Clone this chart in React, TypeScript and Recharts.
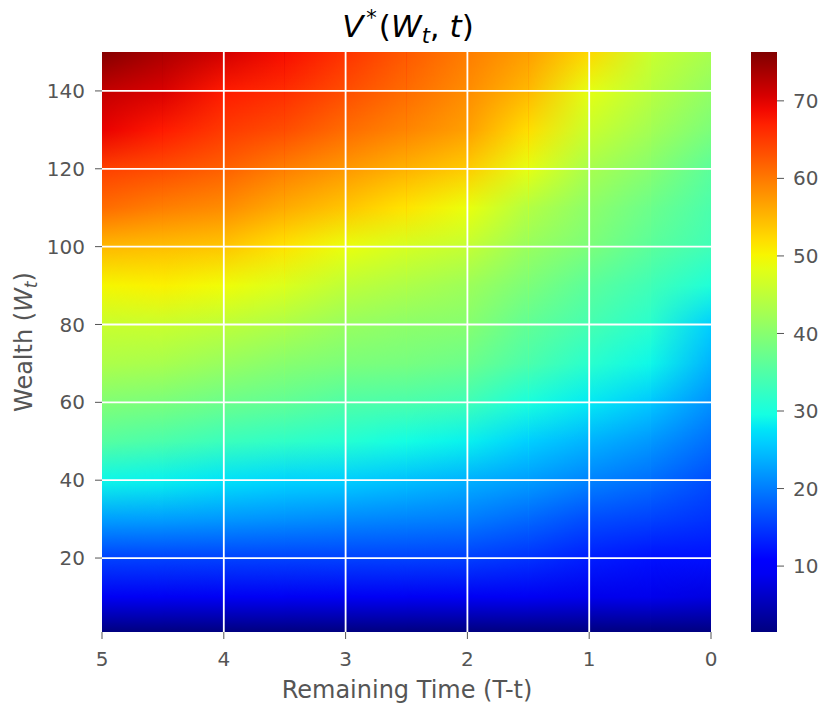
import React from "react";
import {
  ComposedChart,
  XAxis,
  YAxis,
  ReferenceArea,
  ReferenceLine,
  Scatter,
} from "recharts";

// grid the values were read on (remaining time left→right, wealth top→bottom)
const remainingTime = [5, 4.5, 4, 3.5, 3, 2.5, 2, 1.5, 1, 0.5, 0];
const wealthLevels = [150, 140, 130, 120, 110, 100, 90, 80, 70, 60, 50, 40, 30, 20, 10, 1];

// V*(W,t) per remaining-time column, top (W=150) to bottom (W=1)
const vT50 = [76, 72, 69.5, 64.5, 61, 55, 50, 46, 43.5, 39.5, 35.5, 29, 22.5, 15.7, 9, 1.5];
const vT45 = [73.5, 70.5, 67.5, 63.5, 59.5, 54.5, 50.5, 46, 43, 38.8, 34.5, 28.5, 22.4, 15.7, 9, 1.5];
const vT40 = [71, 67.5, 65, 62, 58.5, 54, 49.5, 45, 41.5, 37.5, 33, 27.5, 22, 15.7, 9, 1.5];
const vT35 = [68.5, 66, 63.5, 59.5, 56, 51.5, 47.5, 43.5, 40, 36.5, 32, 26.5, 21.5, 15.7, 9, 1.5];
const vT30 = [65.5, 63.5, 61, 57.5, 54, 49, 45, 41.5, 39, 35, 31, 26, 21, 15.7, 9, 1.5];
const vT25 = [62.5, 61, 59, 55.5, 51.5, 47, 43.5, 40.5, 38.5, 34.5, 29.5, 25, 20.5, 15.7, 9, 1.5];
const vT20 = [59.7, 58.5, 57, 53.5, 49, 45.5, 42, 40, 37.5, 33.5, 28.5, 23.8, 20, 15.5, 9, 1.5];
const vT15 = [57, 55, 52, 48.5, 44, 41.5, 39, 36.5, 34.5, 30, 26, 22.4, 18.5, 14.5, 9, 1.5];
const vT10 = [52.5, 48.5, 46, 43, 40.5, 39, 36, 34, 31.5, 28, 24, 20.5, 16.5, 13, 8.5, 1.5];
const vT05 = [46, 44.5, 42.5, 40, 37.5, 36, 33.5, 31.5, 29, 25.5, 22, 19, 15.7, 12, 8.5, 1.5];
const vT00 = [43, 41, 39, 36, 34.5, 33.5, 30.5, 26, 24, 21.5, 19, 16.5, 14.5, 12, 7.8, 1.5];
const valueColumns = [vT50, vT45, vT40, vT35, vT30, vT25, vT20, vT15, vT10, vT05, vT00];

const xTicks = [0, 1, 2, 3, 4, 5];
const yTicks = [20, 40, 60, 80, 100, 120, 140];
const cbarTicks = [10, 20, 30, 40, 50, 60, 70];

const V_MIN = 1.5;
const V_MAX = 76.3;
const W_MIN = 1;
const W_MAX = 150;

// matplotlib "jet"
const JET: Record<string, number[][]> = {
  r: [[0, 0], [0.35, 0], [0.66, 1], [0.89, 1], [1, 0.5]],
  g: [[0, 0], [0.125, 0], [0.375, 1], [0.64, 1], [0.91, 0], [1, 0]],
  b: [[0, 0.5], [0.11, 1], [0.34, 1], [0.65, 0], [1, 0]],
};

const channel = (pts: number[][], n: number) => {
  for (let i = 1; i < pts.length; i++) {
    if (n <= pts[i][0]) {
      const [x0, y0] = pts[i - 1];
      const [x1, y1] = pts[i];
      return y0 + ((n - x0) / (x1 - x0)) * (y1 - y0);
    }
  }
  return pts[pts.length - 1][1];
};

const jetAt = (n: number) => {
  const c = Math.min(1, Math.max(0, n));
  const r = Math.round(channel(JET.r, c) * 255);
  const g = Math.round(channel(JET.g, c) * 255);
  const b = Math.round(channel(JET.b, c) * 255);
  return `rgb(${r},${g},${b})`;
};

const jet = (v: number) => jetAt((v - V_MIN) / (V_MAX - V_MIN));

const gridPoints = remainingTime.flatMap((t) => wealthLevels.map((w) => ({ t, w })));
const cbarStops = Array.from({ length: 41 }, (_, i) => i / 40);

const FONT = "DejaVu Sans";
const GREY = "#555555";
const tickStyle = { fill: GREY, fontSize: 20, fontFamily: FONT };

// one cell between two neighbouring columns: left column's gradient underneath,
// right column's gradient on top, faded in from left to right
const cellShape = (i: number, last: boolean) => (p: any) => (
  <g>
    <rect
      x={p.x}
      y={p.y}
      width={p.width + (last ? 0 : 0.8)}
      height={p.height}
      fill={`url(#heat-col-${i})`}
    />
    <rect
      x={p.x}
      y={p.y}
      width={p.width}
      height={p.height}
      fill={`url(#heat-col-${i + 1})`}
      mask="url(#fade-lr)"
    />
  </g>
);

export default function App() {
  return (
    <div style={{ position: "absolute", left: 0, top: 0, width: 824, height: 709, background: "#fff" }}>
      <div style={{ position: "absolute", left: 0, top: 0 }}>
        <ComposedChart width={824} height={709} margin={{ top: 52, right: 113, bottom: 37, left: 0 }}>
          <defs>
            {valueColumns.map((col, i) => (
              <linearGradient key={i} id={`heat-col-${i}`} x1="0" y1="0" x2="0" y2="1">
                {col.map((v, j) => (
                  <stop
                    key={j}
                    offset={(W_MAX - wealthLevels[j]) / (W_MAX - W_MIN)}
                    stopColor={jet(v)}
                  />
                ))}
              </linearGradient>
            ))}
            <linearGradient id="fade-grad" x1="0" y1="0" x2="1" y2="0">
              <stop offset={0} stopColor="#fff" stopOpacity={0} />
              <stop offset={1} stopColor="#fff" stopOpacity={1} />
            </linearGradient>
            <mask id="fade-lr" maskContentUnits="objectBoundingBox">
              <rect x={0} y={0} width={1} height={1} fill="url(#fade-grad)" />
            </mask>
          </defs>
          <XAxis
            type="number"
            dataKey="t"
            domain={[0, 5]}
            reversed
            allowDataOverflow
            ticks={xTicks}
            height={40}
            axisLine={false}
            tickLine={{ stroke: GREY }}
            tickSize={7}
            tickMargin={13}
            tick={tickStyle}
          />
          <YAxis
            type="number"
            dataKey="w"
            domain={[W_MIN, W_MAX]}
            allowDataOverflow
            ticks={yTicks}
            width={102}
            axisLine={false}
            tickLine={{ stroke: GREY }}
            tickSize={7}
            tickMargin={10}
            tick={tickStyle}
          />
          {remainingTime.slice(0, -1).map((t, i) => (
            <ReferenceArea
              key={`cell-${i}`}
              x1={remainingTime[i + 1]}
              x2={t}
              y1={W_MIN}
              y2={W_MAX}
              fillOpacity={1}
              stroke="none"
              shape={cellShape(i, i === remainingTime.length - 2)}
            />
          ))}
          {xTicks
            .filter((t) => t > 0 && t < 5)
            .map((t) => (
              <ReferenceLine key={`gx-${t}`} x={t} stroke="#ffffff" strokeWidth={1.8} />
            ))}
          {yTicks.map((w) => (
            <ReferenceLine key={`gy-${w}`} y={w} stroke="#ffffff" strokeWidth={1.8} />
          ))}
          <Scatter data={gridPoints} dataKey="w" shape={() => <g />} isAnimationActive={false} />
        </ComposedChart>
      </div>

      {/* colorbar */}
      <div style={{ position: "absolute", left: 751, top: 0 }}>
        <ComposedChart width={73} height={709} margin={{ top: 52, right: 0, bottom: 77, left: 0 }}>
          <defs>
            <linearGradient id="cbar-grad" x1="0" y1="1" x2="0" y2="0">
              {cbarStops.map((n, i) => (
                <stop key={i} offset={n} stopColor={jetAt(n)} />
              ))}
            </linearGradient>
          </defs>
          <XAxis type="number" dataKey="x" domain={[0, 1]} hide />
          <YAxis
            type="number"
            dataKey="v"
            orientation="right"
            domain={[V_MIN, V_MAX]}
            allowDataOverflow
            ticks={cbarTicks}
            width={47}
            axisLine={false}
            tickLine={{ stroke: GREY }}
            tickSize={7}
            tickMargin={9}
            tick={tickStyle}
          />
          <ReferenceArea
            x1={0}
            x2={1}
            y1={V_MIN}
            y2={V_MAX}
            fill="url(#cbar-grad)"
            fillOpacity={1}
            stroke="none"
          />
          <Scatter
            data={[{ x: 0.5, v: V_MIN }, { x: 0.5, v: V_MAX }]}
            dataKey="v"
            shape={() => <g />}
            isAnimationActive={false}
          />
        </ComposedChart>
      </div>

      {/* title and axis labels */}
      <svg
        width={824}
        height={709}
        style={{ position: "absolute", left: 0, top: 0, pointerEvents: "none" }}
      >
        <text x={408} y={37} textAnchor="middle" fontSize={31} fontFamily={FONT} fill="#000">
          <tspan fontStyle="italic">V</tspan>
          <tspan fontSize={21} dx={3} dy={-12}>*</tspan>
          <tspan dx={2} dy={12}>(</tspan>
          <tspan fontStyle="italic">W</tspan>
          <tspan fontStyle="italic" fontSize={21} dy={6}>t</tspan>
          <tspan dy={-6}>, </tspan>
          <tspan fontStyle="italic">t</tspan>
          <tspan>)</tspan>
        </text>
        <text x={407} y={698} textAnchor="middle" fontSize={24} fontFamily={FONT} fill={GREY}>
          Remaining Time (T-t)
        </text>
        <text
          transform="translate(32,342) rotate(-90)"
          textAnchor="middle"
          fontSize={24}
          fontFamily={FONT}
          fill={GREY}
        >
          Wealth (<tspan fontStyle="italic">W</tspan>
          <tspan fontStyle="italic" fontSize={17} dy={5}>t</tspan>
          <tspan dy={-5}>)</tspan>
        </text>
      </svg>
    </div>
  );
}
